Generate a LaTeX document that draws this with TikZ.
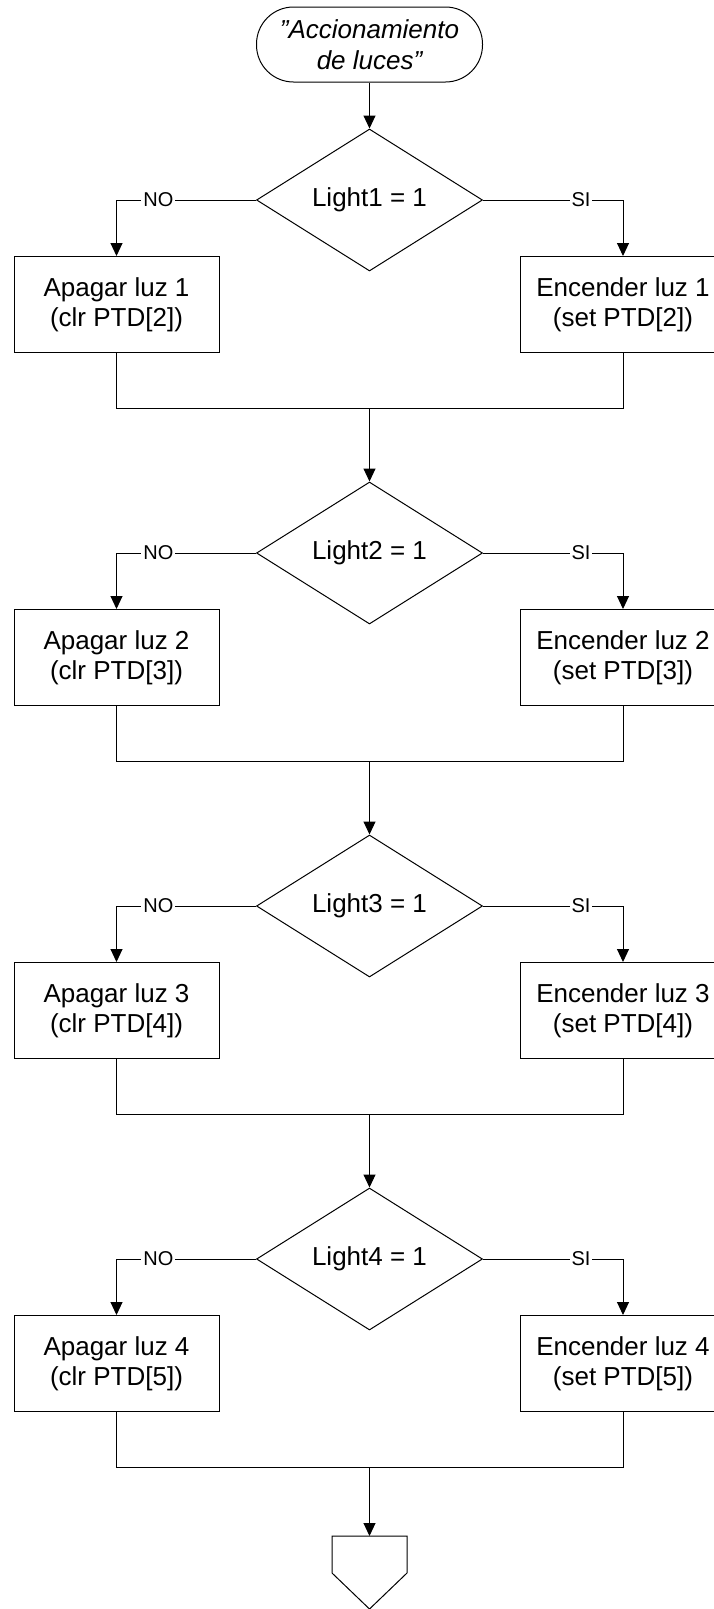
\documentclass[tikz,border=0pt]{standalone}
\usepackage{fontspec}
\setmainfont{Liberation Sans}
\usetikzlibrary{shapes.geometric,arrows.meta}
\begin{document}
\begin{tikzpicture}[x=1pt,y=-1pt,
  line width=1pt,
  every node/.style={font=\fontsize{26}{30}\selectfont},
  proc/.style={draw, rectangle, minimum width=205pt, minimum height=96pt, align=center, inner sep=0pt},
  dec/.style={draw, diamond, aspect=1.6, minimum width=226pt, minimum height=142pt, inner sep=0pt},
  term/.style={draw, rectangle, rounded corners=37pt, minimum width=226pt, minimum height=75pt, align=center, inner sep=0pt, font=\itshape\fontsize{26}{31}\selectfont},
  lab/.style={fill=white, inner sep=2pt, font=\fontsize{20}{20}\selectfont},
  arr/.style={-{Triangle[width=12pt,length=13pt]}},
]
\useasboundingbox (0,0) rectangle (714,1609);
\clip (0,0) rectangle (714,1609);
\fill[white] (0,0) rectangle (714,1609);

\node[term] (start) at (369.5,44.5) {\symbol{34}Accionamiento\\de luces\symbol{34}};

\foreach \k/\p in {1/2,2/3,3/4,4/5}{
  \pgfmathsetmacro\yc{200+353*(\k-1)}
  \node[dec] (d\k) at (369.5,\yc) {Light\k{} = 1};
  \node[proc] (l\k) at (116.5,\yc+104.5) {Apagar luz \k\\(clr PTD[\p])};
  \node[proc] (r\k) at (623,\yc+104.5) {Encender luz \k\\(set PTD[\p])};
  \coordinate (m\k) at (369.5,\yc+208);
  \draw[arr] (d\k.west) -| node[lab, pos=0.35] (no\k) {NO} (l\k.north);
  \draw[arr] (d\k.east) -| node[lab, pos=0.35] (si\k) {SI} (r\k.north);
  \draw (l\k.south) -- (l\k.south |- m\k) -- (r\k.south |- m\k) -- (r\k.south);
}

\draw[arr] (start.south) -- (d1.north);
\draw[arr] (m1) -- (d2.north);
\draw[arr] (m2) -- (d3.north);
\draw[arr] (m3) -- (d4.north);

\coordinate (off) at (369.5,1536);
\draw (332,1536) -- (407,1536) -- (407,1573) -- (369.5,1609) -- (332,1573) -- cycle;
\draw[arr] (m4) -- (off);
\end{tikzpicture}
\end{document}
